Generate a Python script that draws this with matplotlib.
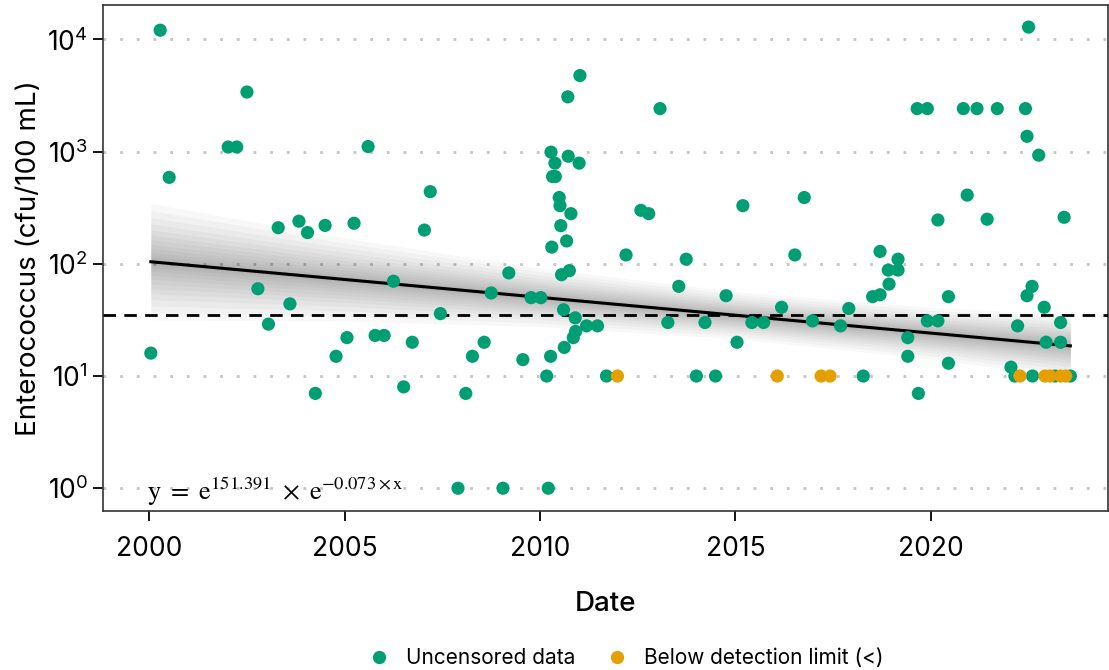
import matplotlib
matplotlib.use("Agg")
import matplotlib.pyplot as plt
from matplotlib.lines import Line2D
import numpy as np

plt.rcParams["font.family"] = ["Inter", "DejaVu Sans"]
plt.rcParams["mathtext.fontset"] = "stix"

# uncensored samples (decimal year, cfu/100 mL)
green_dates = [
    2000.04, 2000.28, 2000.51, 2002.02, 2002.24, 2002.50, 2002.78, 2003.05, 2003.30, 2003.60,
    2003.83, 2004.05, 2004.25, 2004.50, 2004.78, 2005.06, 2005.24, 2005.60, 2005.78, 2006.01,
    2006.25, 2006.51, 2006.73, 2007.04, 2007.19, 2007.45, 2007.90, 2008.10, 2008.27, 2008.57,
    2008.75, 2009.05, 2009.20, 2009.56, 2009.77, 2010.02, 2010.17, 2010.21, 2010.27, 2010.28,
    2010.30, 2010.32, 2010.38, 2010.39, 2010.49, 2010.51, 2010.53, 2010.55, 2010.60, 2010.62,
    2010.68, 2010.71, 2010.72, 2010.75, 2010.79, 2010.85, 2010.90, 2010.91, 2011.00, 2011.02,
    2011.19, 2011.47, 2011.70, 2012.20, 2012.58, 2012.78, 2013.07, 2013.27, 2013.55, 2013.74,
    2014.00, 2014.22, 2014.49, 2014.76, 2015.04, 2015.19, 2015.42, 2015.72, 2016.18, 2016.52,
    2016.76, 2016.97, 2017.69, 2017.90, 2018.27, 2018.51, 2018.70, 2018.70, 2018.91, 2018.93,
    2019.16, 2019.16, 2019.41, 2019.41, 2019.65, 2019.68, 2019.91, 2019.91, 2020.18, 2020.18,
    2020.45, 2020.45, 2020.83, 2020.93, 2021.18, 2021.44, 2021.70, 2022.05, 2022.15, 2022.22,
    2022.42, 2022.46, 2022.46, 2022.50, 2022.59, 2022.60, 2022.76, 2022.90, 2022.95, 2023.18,
    2023.32, 2023.32, 2023.41, 2023.57,
]
green_values = [
    16, 12100, 590, 1100, 1100, 3400, 60, 29, 210, 44,
    240, 190, 7, 220, 15, 22, 230, 1110, 23, 23,
    70, 8, 20, 200, 440, 36, 1, 7, 15, 20,
    55, 1, 83, 14, 50, 50, 10, 1, 15, 990,
    141, 600, 790, 600, 390, 330, 219, 80, 39, 18,
    160, 3080, 910, 87, 280, 22, 33, 25, 790, 4770,
    28, 28, 10, 120, 300, 280, 2420, 30, 63, 110,
    10, 30, 10, 52, 20, 330, 30, 30, 41, 120,
    390, 31, 28, 40, 10, 51, 53, 129, 88, 66,
    88, 110, 22, 15, 2420, 7, 2420, 31, 31, 246,
    51, 13, 2420, 410, 2420, 250, 2420, 12, 10, 28,
    2420, 1370, 52, 12900, 63, 10, 930, 41, 20, 10,
    30, 20, 260, 10,
]

# censored samples, plotted at the detection limit
orange_dates = [2011.98, 2016.07, 2017.19, 2017.42, 2022.28, 2022.92, 2023.05, 2023.32, 2023.45]
orange_values = [10, 10, 10, 10, 10, 10, 10, 10, 10]

# fitted trend: ln(y) = a + b * year
fit_intercept = 151.391
fit_slope = -0.07337
threshold = 35

# spread of the resampled trend lines (log10 half width)
band_x = [2000.0, 2005.0, 2010.0, 2015.0, 2020.0, 2023.6]
band_half = [0.52, 0.37, 0.26, 0.21, 0.23, 0.28]

green = "#009E73"
orange = "#E69F00"

fig = plt.figure(figsize=(11.09, 6.70), dpi=100)
ax = fig.add_axes([0.093, 0.237, 0.906, 0.756])
ax.set_yscale("log")
ax.set_xlim(1998.82, 2024.53)
ax.set_ylim(10 ** -0.205, 10 ** 4.31)

# grey fan of resampled trends
all_dates = green_dates + orange_dates
xs = np.linspace(min(all_dates), max(all_dates), 100)
center = (fit_intercept + fit_slope * xs) / np.log(10)
half = np.interp(xs, band_x, band_half)
for frac in [1.0, 0.88, 0.76, 0.65, 0.55, 0.46, 0.38, 0.3, 0.23, 0.16, 0.1, 0.05]:
    ax.fill_between(xs, 10 ** (center - half * frac), 10 ** (center + half * frac),
                    color="black", alpha=0.028, linewidth=0, zorder=1)

ax.plot(xs, 10 ** center, color="black", linewidth=2.2, zorder=3)
ax.axhline(threshold, color="black", linestyle=(0, (4.5, 3)), linewidth=2, zorder=3)

ax.scatter(green_dates, green_values, s=90, color=green, edgecolors="none", zorder=4)
ax.scatter(orange_dates, orange_values, s=90, color=orange, edgecolors="none", zorder=5)

ax.grid(axis="y", which="major", color="#c4c4c4", linestyle=(0, (1, 5)), linewidth=2)
ax.grid(axis="x", visible=False)
ax.set_axisbelow(True)
ax.minorticks_off()

ax.set_xticks([2000, 2005, 2010, 2015, 2020])
ax.set_yticks([1, 10, 100, 1000, 10000])
ax.tick_params(axis="both", labelsize=19, length=7, width=1.3, color="black", pad=4)
ax.tick_params(axis="x", pad=11)
for spine in ax.spines.values():
    spine.set_linewidth(1.2)
    spine.set_color("#333333")

ax.set_xlabel("Date", fontsize=20, fontweight="medium", labelpad=21)
ax.set_ylabel("Enterococcus (cfu/100 mL)", fontsize=20, labelpad=4)

ax.text(1999.95, 0.93, r"$\mathrm{y\ =\ e^{151.391}\ \times\ e^{-0.073 \times x}}$",
        fontsize=19, va="center", ha="left", zorder=6)

handles = [
    Line2D([], [], marker="o", linestyle="none", color=green, markersize=8.5),
    Line2D([], [], marker="o", linestyle="none", color=orange, markersize=8.5),
]
fig.legend(handles, ["Uncensored data", "Below detection limit (<)"],
           loc="lower center", bbox_to_anchor=(0.56, -0.025), ncol=2, frameon=False,
           fontsize=15, handletextpad=0.3, columnspacing=1.0)

fig.savefig("out.png", dpi=100)
